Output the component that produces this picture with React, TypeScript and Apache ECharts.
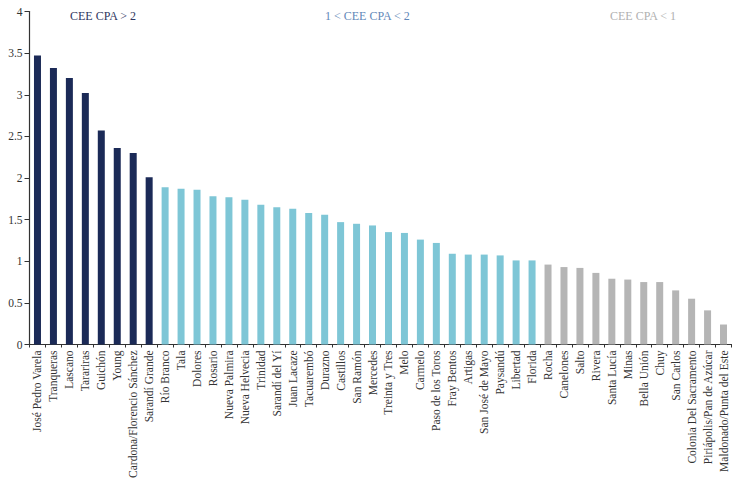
import React, { useEffect, useRef } from "react";
import * as echarts from "echarts";

const categories = [
  "José Pedro Varela", "Tranqueras", "Lascano", "Tarariras", "Guichón", "Young",
  "Cardona/Florencio Sánchez", "Sarandí Grande", "Río Branco", "Tala", "Dolores",
  "Rosario", "Nueva Palmira", "Nueva Helvecia", "Trinidad", "Sarandí del Yí",
  "Juan Lacaze", "Tacuarembó", "Durazno", "Castillos", "San Ramón", "Mercedes",
  "Treinta y Tres", "Melo", "Carmelo", "Paso de los Toros", "Fray Bentos", "Artigas",
  "San José de Mayo", "Paysandú", "Libertad", "Florida", "Rocha", "Canelones",
  "Salto", "Rivera", "Santa Lucía", "Minas", "Bella Unión", "Chuy", "San Carlos",
  "Colonia Del Sacramento", "Piriápolis/Pan de Azúcar", "Maldonado/Punta del Este",
];

const values = [
  3.47, 3.32, 3.2, 3.02, 2.57, 2.36, 2.3, 2.01, 1.89, 1.87, 1.86,
  1.78, 1.77, 1.74, 1.68, 1.65, 1.63, 1.58, 1.56, 1.47, 1.45, 1.43,
  1.35, 1.34, 1.26, 1.22, 1.09, 1.08, 1.08, 1.07, 1.01, 1.01, 0.96,
  0.93, 0.92, 0.86, 0.79, 0.78, 0.75, 0.75, 0.65, 0.55, 0.41, 0.24,
];

const groupLabels = ["CEE CPA > 2", "1 < CEE CPA < 2", "CEE CPA < 1"];
const groupColors = ["#1b2a57", "#7ec6d6", "#b5b5b5"];
const headerColors = ["#2e3660", "#5f87b8", "#b0b0b0"];

const groupOf = (v: number) => (v > 2 ? 0 : v > 1 ? 1 : 2);

const FONT = "'Liberation Serif', 'DejaVu Serif', serif";

export default function App() {
  const ref = useRef<HTMLDivElement>(null);
  useEffect(() => {
    document.body.style.margin = "0";
    if (!ref.current) return;
    const chart = echarts.init(ref.current, undefined, { renderer: "svg" });
    chart.setOption({
      animation: false,
      backgroundColor: "#ffffff",
      grid: { left: 29.5, right: 4.5, top: 11.5, bottom: 141.5, containLabel: false },
      graphic: [
        { type: "text", left: 70, top: 10, style: { text: groupLabels[0], fill: headerColors[0], font: `12px ${FONT}` } },
        { type: "text", left: 325, top: 10, style: { text: groupLabels[1], fill: headerColors[1], font: `12px ${FONT}` } },
        { type: "text", left: 610, top: 10, style: { text: groupLabels[2], fill: headerColors[2], font: `12px ${FONT}` } },
      ],
      xAxis: {
        type: "category",
        data: categories,
        axisLine: { lineStyle: { color: "#333", width: 1.2 } },
        axisTick: { show: true, length: 3, interval: 0, lineStyle: { color: "#333" } },
        axisLabel: {
          interval: 0,
          rotate: 90,
          margin: 6,
          color: "#333",
          fontFamily: FONT,
          fontSize: 11.5,
        },
      },
      yAxis: {
        type: "value",
        min: 0,
        max: 4,
        interval: 0.5,
        splitLine: { show: false },
        axisLine: { show: true, lineStyle: { color: "#333", width: 1.2 } },
        axisTick: { show: true, length: 5, lineStyle: { color: "#333" } },
        axisLabel: { color: "#333", fontFamily: FONT, fontSize: 11.5, margin: 7 },
      },
      series: [
        {
          type: "bar",
          barWidth: 7,
          data: values.map((v) => ({ value: v, itemStyle: { color: groupColors[groupOf(v)] } })),
        },
      ],
    });
    return () => chart.dispose();
  }, []);
  return <div ref={ref} style={{ width: 736, height: 486 }} />;
}
